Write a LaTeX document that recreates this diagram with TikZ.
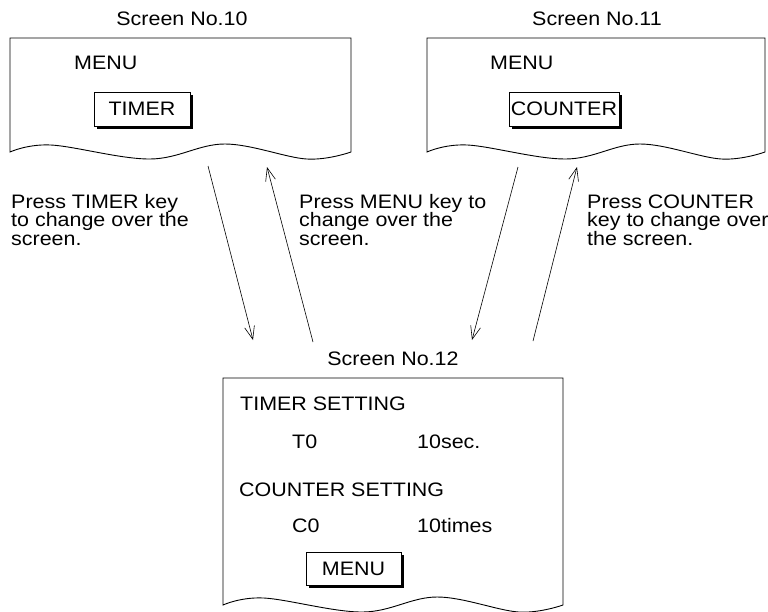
\documentclass[tikz,border=0pt]{standalone}
\usepackage{fontspec}
\setmainfont{Liberation Sans}[FakeStretch=1.1]
\usetikzlibrary{arrows.meta,shadows}
\newcommand\screenshape[4]{%
  \draw[screenline] (#1,#3) -- (#1,#2) -- ({#1+#4},#2) -- ({#1+#4},#3)
    -- plot[smooth,tension=0.6] coordinates {({#1+#4},#3) ({#1+0.87*#4},{#3+7}) ({#1+0.63*#4},{#3-8}) ({#1+0.41*#4},{#3+7}) ({#1+0.12*#4},{#3-7}) (#1,#3)} -- cycle;}
\newcommand\reffont{\fontsize{19.5}{18.5}\selectfont\lineskiplimit=-50pt\lineskip=0pt}
\begin{document}
\begin{tikzpicture}[x=1pt,y=-1pt,
  txt/.style={font=\reffont, inner sep=0pt, anchor=base west, align=left},
  title/.style={font=\reffont, inner sep=0pt, anchor=base},
  screenline/.style={line width=0.9pt, draw=black, line join=miter},
  keybox/.style={draw=black, line width=0.9pt, fill=white, inner sep=0pt,
    font=\reffont,
    drop shadow={shadow xshift=3pt, shadow yshift=-3pt, fill=black, opacity=1}},
  flow/.style={line width=0.6pt, -{Straight Barb[length=13pt,width=10pt]}}]
\useasboundingbox (0,0) rectangle (768,611);

% Screen No.10
\node[title] (t10) at (182,25) {Screen No.10};
\screenshape{10}{38}{152}{341}
\node[txt] (menu10) at (74,69) {MENU};
\node[keybox, minimum width=96pt, minimum height=34pt] (timerkey) at (142,109) {TIMER};

% Screen No.11
\node[title] (t11) at (597,25) {Screen No.11};
\screenshape{427}{38}{152}{338}
\node[txt] (menu11) at (490,69) {MENU};
\node[keybox, minimum width=110pt, minimum height=34pt] (counterkey) at (564,109) {COUNTER};

% Screen No.12
\node[title] (t12) at (393,365) {Screen No.12};
\screenshape{223}{378}{605}{340}
\node[txt] (ts) at (240,410) {TIMER SETTING};
\node[txt] (t0) at (292,448) {T0};
\node[txt] (tv) at (417,448) {10sec.};
\node[txt] (cs) at (239,496) {COUNTER SETTING};
\node[txt] (c0) at (292,532) {C0};
\node[txt] (cv) at (417,532) {10times};
\node[keybox, minimum width=95pt, minimum height=33pt] (menukey) at (353.5,568.5) {MENU};

% Labels (base anchor = baseline of last line)
\node[txt] (l1) at (11,245) {Press TIMER key\\to change over the\\screen.};
\node[txt] (l2) at (299,245) {Press MENU key to\\change over the\\screen.};
\node[txt] (l3) at (587,245) {Press COUNTER\\key to change over\\the screen.};

% Arrow ends
\coordinate (a1s) at (208,166);
\coordinate (a1e) at (253,340);
\coordinate (a2s) at (313,342);
\coordinate (a2e) at (267,167);
\coordinate (a3s) at (518,167);
\coordinate (a3e) at (472,340);
\coordinate (a4s) at (533,341);
\coordinate (a4e) at (577,167);
\draw[flow] (a1s) -- (a1e);
\draw[flow] (a2s) -- (a2e);
\draw[flow] (a3s) -- (a3e);
\draw[flow] (a4s) -- (a4e);
\end{tikzpicture}
\end{document}
